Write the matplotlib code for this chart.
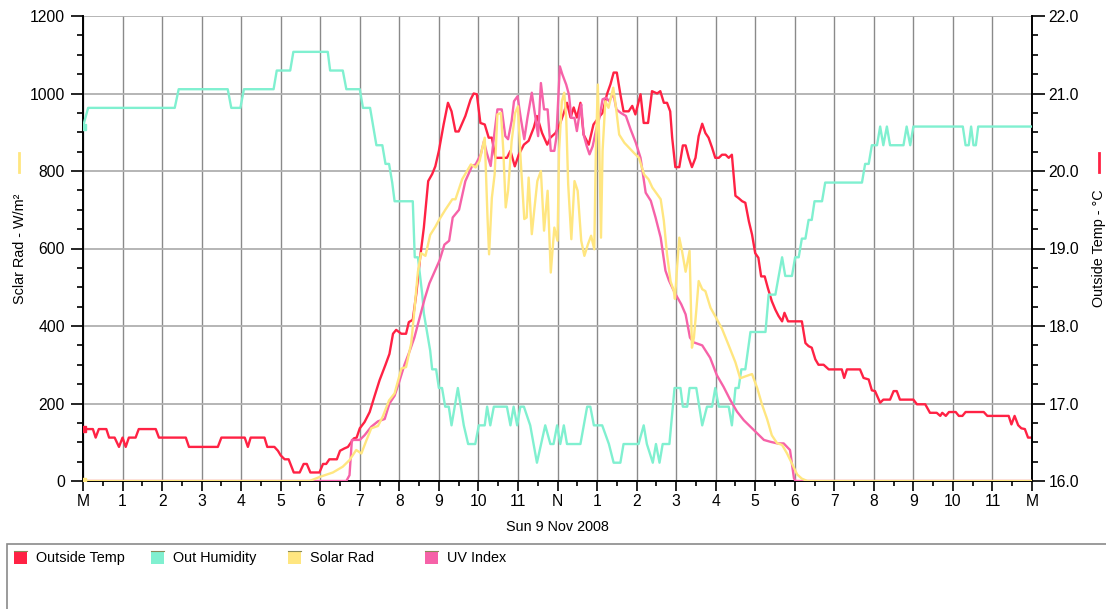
import matplotlib
matplotlib.use('Agg')
import matplotlib.pyplot as plt
from matplotlib.patches import Rectangle
from matplotlib.lines import Line2D
from matplotlib.ticker import MultipleLocator, FixedLocator, FormatStrFormatter

plt.rcParams['font.family'] = ['Liberation Sans', 'DejaVu Sans']

# ---------------- data (hours after midnight, Sun 9 Nov 2008) ----------------
temp_hours = [0.00, 0.25, 0.32, 0.40, 0.59, 0.66, 0.80, 0.91, 1.00, 1.08, 1.16, 1.33, 1.41, 1.84, 1.92,
              2.60, 2.68, 3.41, 3.50, 4.09, 4.17, 4.24, 4.59, 4.66, 4.84, 4.93, 5.00, 5.10, 5.20, 5.33,
              5.48, 5.58, 5.66, 5.75, 5.98, 6.07, 6.15, 6.23, 6.42, 6.50, 6.61, 6.70, 6.78, 6.85, 6.92,
              7.00, 7.12, 7.25, 7.37, 7.50, 7.65, 7.75, 7.84, 7.92, 8.05, 8.17, 8.24, 8.34, 8.43, 8.53,
              8.62, 8.73, 8.83, 8.91, 9.00, 9.12, 9.23, 9.32, 9.42, 9.50, 9.67, 9.80, 9.88, 9.96, 10.05,
              10.16, 10.26, 10.34, 10.43, 10.72, 10.81, 10.92, 11.02, 11.15, 11.27, 11.40, 11.48, 11.61,
              11.74, 11.82, 11.95, 12.07, 12.16, 12.24, 12.33, 12.41, 12.49, 12.58, 12.66, 12.79, 12.91,
              13.04, 13.14, 13.25, 13.34, 13.42, 13.50, 13.59, 13.67, 13.80, 13.89, 13.97, 14.10, 14.18,
              14.29, 14.39, 14.52, 14.60, 14.69, 14.77, 14.85, 14.90, 14.98, 15.08, 15.17, 15.24, 15.32,
              15.40, 15.49, 15.57, 15.66, 15.74, 15.82, 15.91, 15.99, 16.08, 16.16, 16.25, 16.33, 16.41,
              16.50, 16.58, 16.67, 16.75, 16.84, 16.92, 17.00, 17.08, 17.15, 17.24, 17.32, 17.42, 17.51,
              17.59, 17.68, 17.74, 17.83, 18.18, 18.27, 18.35, 18.43, 18.52, 18.60, 18.73, 18.86, 19.19,
              19.25, 19.32, 19.65, 19.74, 19.87, 19.95, 20.03, 20.16, 20.24, 20.41, 20.50, 20.58, 20.66,
              21.00, 21.09, 21.30, 21.42, 21.59, 21.68, 21.73, 21.82, 21.90, 22.07, 22.15, 22.24, 22.32,
              22.78, 22.87, 23.41, 23.48, 23.56, 23.65, 23.73, 23.82, 23.90, 24.00]
temp_c = [16.67, 16.67, 16.56, 16.67, 16.67, 16.56, 16.56, 16.44, 16.56, 16.44, 16.56, 16.56, 16.67, 16.67, 16.56,
          16.56, 16.44, 16.44, 16.56, 16.56, 16.44, 16.56, 16.56, 16.44, 16.44, 16.39, 16.33, 16.28, 16.28, 16.11,
          16.11, 16.22, 16.22, 16.11, 16.11, 16.22, 16.22, 16.28, 16.28, 16.39, 16.42, 16.44, 16.50, 16.55, 16.56,
          16.68, 16.76, 16.89, 17.09, 17.30, 17.50, 17.64, 17.90, 17.95, 17.90, 17.90, 18.05, 18.08, 18.42, 18.90,
          19.27, 19.87, 19.96, 20.06, 20.26, 20.60, 20.88, 20.77, 20.51, 20.51, 20.71, 20.92, 21.00, 20.99, 20.62,
          20.60, 20.43, 20.43, 20.17, 20.17, 20.26, 20.06, 20.21, 20.34, 20.39, 20.56, 20.71, 20.49,
          20.34, 20.43, 20.49, 20.62, 20.75, 20.88, 20.69, 20.82, 20.69, 20.88, 20.47, 20.34, 20.60,
          20.69, 20.75, 20.99, 21.12, 21.27, 21.27, 20.99, 20.77, 20.77, 20.84, 20.73, 20.99, 20.62,
          20.62, 21.03, 21.00, 21.03, 20.88, 20.88, 20.77, 20.43, 20.05, 20.05, 20.33, 20.33, 20.17,
          20.05, 20.17, 20.45, 20.61, 20.49, 20.43, 20.30, 20.17, 20.17, 20.21, 20.21, 20.17, 20.21,
          19.68, 19.65, 19.61, 19.59, 19.35, 19.18, 18.94, 18.88, 18.64, 18.64, 18.49, 18.32, 18.21,
          18.13, 18.06, 18.17, 18.06, 18.06, 17.78, 17.74, 17.72, 17.57, 17.50, 17.50, 17.44, 17.44,
          17.33, 17.44, 17.44, 17.33, 17.31, 17.17, 17.16, 17.01, 17.05, 17.05, 17.16, 17.16, 17.05,
          17.05, 16.99, 16.99, 16.88, 16.88, 16.84, 16.88, 16.84, 16.89, 16.89, 16.84, 16.84, 16.89,
          16.89, 16.84, 16.84, 16.73, 16.84, 16.72, 16.68, 16.67, 16.56, 16.56]

hum_hours = [0.00, 0.13, 2.32, 2.42, 3.66, 3.75, 3.98, 4.07, 4.82, 4.90, 5.24, 5.32, 6.19, 6.25, 6.57, 6.66,
             7.00, 7.08, 7.26, 7.34, 7.42, 7.57, 7.65, 7.74, 7.82, 7.88, 8.34, 8.39, 8.47, 8.58, 8.62, 8.70,
             8.78, 8.83, 8.93, 9.00, 9.08, 9.16, 9.25, 9.32, 9.48, 9.63, 9.74, 9.92, 10.01, 10.16, 10.22,
             10.30, 10.39, 10.72, 10.81, 10.89, 10.98, 11.06, 11.15, 11.31, 11.48, 11.69, 11.82, 11.90,
             11.99, 12.07, 12.16, 12.24, 12.58, 12.75, 12.83, 12.92, 13.13, 13.30, 13.42, 13.59, 13.67,
             14.05, 14.18, 14.26, 14.41, 14.49, 14.58, 14.66, 14.83, 14.96, 15.11, 15.17, 15.28, 15.34,
             15.51, 15.66, 15.78, 15.91, 15.99, 16.08, 16.33, 16.41, 16.50, 16.58, 16.65, 16.75, 16.88,
             17.26, 17.34, 17.51, 17.68, 17.76, 17.93, 18.01, 18.10, 18.18, 18.27, 18.35, 18.43, 18.50,
             18.69, 18.77, 19.70, 19.78, 19.87, 19.95, 20.08, 20.16, 20.24, 20.33, 20.41, 20.75, 20.83,
             20.92, 21.00, 22.25, 22.32, 22.40, 22.46, 22.52, 22.58, 22.64, 24.00]
hum_pct = [80, 81, 81, 82, 82, 81, 81, 82, 82, 83, 83, 84, 84, 83, 83, 82,
           82, 81, 81, 80, 79, 79, 78, 78, 77, 76, 76, 73, 73, 71, 70, 69,
           68, 67, 67, 66, 66, 65, 65, 64, 66, 64, 63, 63, 64, 64, 65,
           64, 65, 65, 64, 65, 64, 65, 65, 64, 62, 64, 63, 63,
           64, 63, 64, 63, 63, 65, 65, 64, 64, 63, 62, 62, 63,
           63, 64, 63, 62, 63, 62, 63, 63, 66, 66, 65, 65, 66,
           66, 64, 65, 65, 66, 65, 65, 64, 66, 66, 67, 67, 69,
           69, 71, 71, 73, 72, 72, 73, 73, 74, 74, 75, 75, 76,
           76, 77, 77, 78, 78, 79, 79, 80, 79, 80, 79, 79, 80,
           79, 80, 80, 79, 79, 80, 79, 79, 80, 80]

solar_hours = [0.00, 5.73, 6.00, 6.32, 6.57, 6.74, 6.91, 7.04, 7.16, 7.29, 7.46, 7.58, 7.74, 7.88, 8.05,
               8.17, 8.30, 8.38, 8.47, 8.55, 8.66, 8.78, 8.91, 9.00, 9.17, 9.34, 9.42, 9.59, 9.81, 9.93,
               10.03, 10.10, 10.16, 10.23, 10.27, 10.34, 10.41, 10.48, 10.57, 10.63, 10.69, 10.75, 10.84,
               10.93, 11.00, 11.07, 11.16, 11.22, 11.27, 11.35, 11.41, 11.49, 11.58, 11.66, 11.75, 11.83,
               11.92, 12.00, 12.04, 12.11, 12.17, 12.22, 12.27, 12.35, 12.43, 12.51, 12.60, 12.68, 12.77,
               12.85, 12.93, 12.97, 13.02, 13.06, 13.10, 13.14, 13.21, 13.29, 13.35, 13.41, 13.48, 13.56,
               13.69, 13.81, 13.93, 14.06, 14.19, 14.30, 14.40, 14.52, 14.61, 14.69, 14.77, 14.86, 14.94,
               14.97, 15.03, 15.08, 15.15, 15.24, 15.34, 15.40, 15.45, 15.51, 15.57, 15.66, 15.74, 15.87,
               15.99, 16.16, 16.33, 16.50, 16.62, 16.75, 16.92, 17.05, 17.17, 17.30, 17.42, 17.55, 17.68,
               17.80, 17.93, 18.06, 18.18, 18.32, 24.00]
solar_wm2 = [0, 0, 11, 22, 37, 54, 80, 71, 103, 136, 142, 166, 208, 226, 290,
             294, 355, 440, 540, 588, 581, 635, 656, 673, 701, 727, 727, 779, 817, 809,
             826, 860, 886, 680, 585, 731, 791, 946, 950, 852, 706, 749, 877,
             950, 967, 826, 676, 680, 783, 637, 697, 774, 800, 646, 749, 538,
             654, 620, 852, 980, 1002, 937, 766, 624, 774, 749, 620, 581, 611,
             633, 598, 852, 1023, 852, 628, 852, 980, 963, 989, 1015, 963, 894,
             873, 860, 847, 834, 791, 779, 757, 740, 727, 671, 585, 515, 491,
             470, 560, 628, 593, 540, 594, 344, 370, 440, 516, 495, 490, 447,
             425, 393, 350, 306, 265, 270, 276, 240, 198, 160, 118, 98, 93,
             72, 45, 17, 6, 0, 0]

uv_hours = [0.00, 6.66, 6.74, 6.80, 7.00, 7.12, 7.29, 7.46, 7.63, 7.75, 7.88, 8.00, 8.13, 8.26, 8.38,
            8.51, 8.64, 8.76, 8.89, 9.02, 9.14, 9.26, 9.35, 9.51, 9.67, 9.84, 9.93, 10.06, 10.14, 10.21,
            10.31, 10.40, 10.48, 10.59, 10.68, 10.75, 10.84, 10.90, 10.99, 11.07, 11.16, 11.24, 11.35,
            11.43, 11.51, 11.58, 11.66, 11.75, 11.83, 11.92, 11.97, 12.06, 12.12, 12.22, 12.29, 12.35,
            12.43, 12.49, 12.56, 12.60, 12.66, 12.74, 12.81, 12.89, 12.97, 13.06, 13.14, 13.23, 13.31,
            13.41, 13.49, 13.60, 13.73, 13.85, 13.98, 14.10, 14.23, 14.36, 14.48, 14.61, 14.73, 14.82,
            14.94, 15.03, 15.13, 15.24, 15.35, 15.44, 15.66, 15.86, 16.03, 16.20, 16.37, 16.54, 16.71,
            16.88, 17.05, 17.22, 17.39, 17.56, 17.72, 17.88, 17.98, 18.02, 24.00]
uv_index = [0.00, 0.00, 0.15, 1.06, 1.06, 1.18, 1.40, 1.54, 1.60, 2.00, 2.20, 2.57, 3.00, 3.35, 3.70,
            4.20, 4.70, 5.10, 5.40, 5.70, 6.10, 6.20, 6.80, 7.00, 7.74, 8.13, 8.17, 8.43, 8.77, 8.47,
            8.13, 8.94, 9.59, 9.59, 8.90, 8.82, 9.29, 9.80, 9.93, 9.37, 8.82, 9.37, 10.02,
            9.46, 8.90, 10.27, 9.59, 9.59, 8.52, 8.52, 8.86, 10.70, 10.50, 10.23, 9.97, 9.37,
            9.37, 9.03, 9.50, 9.72, 8.94, 8.64, 8.43, 8.64, 9.03, 9.37, 9.85, 9.89, 9.80,
            10.00, 9.59, 9.50, 9.42, 9.07, 8.73, 8.34, 7.44, 7.23, 6.80, 6.28, 5.43, 5.17,
            4.91, 4.74, 4.56, 4.30, 3.70, 3.58, 3.50, 3.18, 2.73, 2.43, 2.09, 1.79, 1.57,
            1.40, 1.23, 1.06, 1.01, 0.97, 0.97, 0.80, 0.07, 0.00, 0.00]

hour_labels = ['M', '1', '2', '3', '4', '5', '6', '7', '8', '9', '10', '11', 'N',
               '1', '2', '3', '4', '5', '6', '7', '8', '9', '10', '11', 'M']

series_names = ['Outside Temp', 'Out Humidity', 'Solar Rad', 'UV Index']
c_temp, c_hum, c_solar, c_uv = '#ff2244', '#80f0d0', '#ffe680', '#f662a8'

# ---------------- figure ----------------
W, H = 1106, 609
fig = plt.figure(figsize=(W / 100, H / 100), dpi=100)
L, R, B, T = 83 / W, 1032 / W, 1 - 481 / H, 1 - 16 / H
ax = fig.add_axes([L, B, R - L, T - B])
ax.set_xlim(0, 24)
ax.set_ylim(0, 1200)

FS = 10.4        # axis titles
TFS = 11.3       # tick labels
LW = 1.7

ax.xaxis.set_major_locator(FixedLocator(range(25)))
ax.set_xticklabels(hour_labels, fontsize=TFS)
ax.xaxis.set_minor_locator(MultipleLocator(0.5))
ax.yaxis.set_major_locator(MultipleLocator(200))
ax.yaxis.set_minor_locator(MultipleLocator(50))
ax.tick_params(axis='y', which='major', length=9, width=1.2, pad=4, labelsize=TFS, direction='out')
ax.tick_params(axis='y', which='minor', length=4, width=1.2, direction='out')
ax.tick_params(axis='x', which='major', length=7, width=1.2, pad=2.5, labelsize=TFS, direction='out')
ax.tick_params(axis='x', which='minor', length=3.5, width=1.2, direction='out')
for side in ['top', 'right']:
    ax.spines[side].set_visible(False)
for side in ['left', 'bottom']:
    ax.spines[side].set_linewidth(1.4)
ax.grid(True, which='major', axis='x', color='#8a8a8a', lw=1.0)
ax.grid(True, which='major', axis='y', color='#b0b0b0', lw=1.3)
ax.set_axisbelow(True)
ax.set_ylabel('Sclar Rad - W/m²', fontsize=FS)
ax.yaxis.set_label_coords((27 - 83) / 949, 0.5)
ax.set_xlabel('Sun 9 Nov 2008', fontsize=FS, labelpad=8)

# temperature axis (right, visible)
axT = ax.twinx()
axT.set_ylim(16, 22)
axT.yaxis.set_major_locator(MultipleLocator(1.0))
axT.yaxis.set_minor_locator(MultipleLocator(0.25))
axT.yaxis.set_major_formatter(FormatStrFormatter('%.1f'))
axT.tick_params(axis='y', which='major', length=9, width=1.2, pad=3, labelsize=TFS, direction='out')
axT.tick_params(axis='y', which='minor', length=4, width=1.2, direction='out')
for side in ['top', 'left', 'bottom']:
    axT.spines[side].set_visible(False)
axT.spines['right'].set_linewidth(1.4)
axT.set_ylabel('Outside Temp - °C', fontsize=FS)
axT.yaxis.set_label_coords((1092 - 83) / 949, 0.5)
axT.plot(temp_hours, temp_c, color=c_temp, lw=LW, marker='s', markersize=4, markevery=[0],
         solid_joinstyle='round')

# hidden humidity axis
axH = ax.twinx()
axH.set_ylim(61.02, 85.92)
axH.set_axis_off()
axH.plot(hum_hours, hum_pct, color=c_hum, lw=LW, marker='s', markersize=4, markevery=[0])

# hidden UV axis
axU = ax.twinx()
axU.set_ylim(0, 12)
axU.set_axis_off()
axU.plot(uv_hours, uv_index, color=c_uv, lw=LW)

# solar radiation on the left scale (drawn last, on top)
axS = ax.twinx()
axS.set_ylim(0, 1200)
axS.set_axis_off()
axS.plot(solar_hours, solar_wm2, color=c_solar, lw=LW, marker='s', markersize=4, markevery=[0])

# axis-label colour keys
fig.add_artist(Line2D([19 / W, 19 / W], [1 - 153 / H, 1 - 172 / H], color=c_solar, lw=2))
fig.add_artist(Line2D([1099 / W, 1099 / W], [1 - 153 / H, 1 - 172 / H], color=c_temp, lw=2))

# legend box
fig.add_artist(Rectangle((7 / W, -0.05), 1.2, (609 - 544) / H + 0.05, transform=fig.transFigure,
                         facecolor='white', edgecolor='#8a8a8a', lw=1.2))
leg_x = [14, 151, 288, 425]
for x0, name, col in zip(leg_x, series_names, [c_temp, c_hum, c_solar, c_uv]):
    fig.add_artist(Rectangle((x0 / W, 1 - 564 / H), 13 / W, 13 / H, transform=fig.transFigure,
                             facecolor=col, edgecolor='none'))
    fig.add_artist(Line2D([x0 / W, (x0 + 13) / W], [1 - 551 / H, 1 - 551 / H], color='#8a8a5a', lw=0.8))
    fig.text((x0 + 22) / W, 1 - 558 / H, name, fontsize=10.4, va='center', ha='left')

fig.savefig('out.png', dpi=100)
